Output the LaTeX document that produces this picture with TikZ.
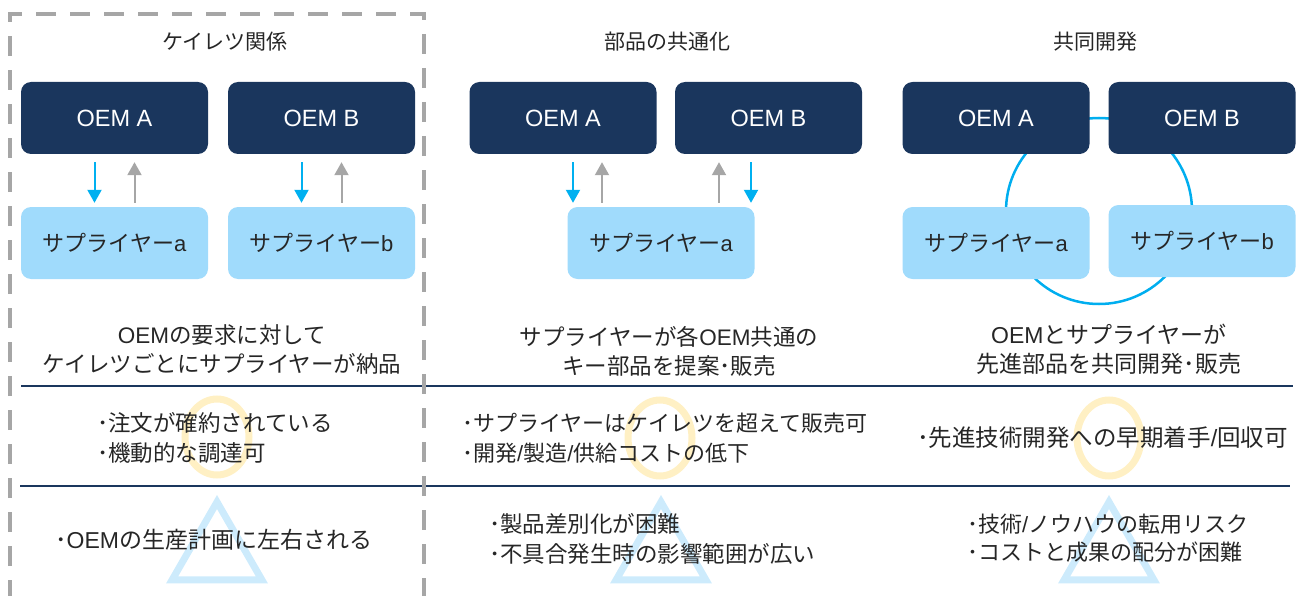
\documentclass[tikz,border=0pt]{standalone}
\usepackage{fontspec}
\setmainfont{Liberation Sans}
\newfontfamily\cjkfont{Noto Sans CJK JP}
\newcommand{\jtext}[1]{{\cjkfont #1}}
\newcommand{\fsz}[1]{\fontsize{#1}{30}\selectfont}
\usetikzlibrary{arrows.meta}
\definecolor{navy}{HTML}{1A365D}
\definecolor{lightsup}{HTML}{A0DBFC}
\definecolor{arrowblue}{HTML}{00B0F0}
\definecolor{arrowgray}{HTML}{A6A6A6}
\definecolor{dashgray}{HTML}{A6A6A6}
\definecolor{ringyellow}{HTML}{FFF0C4}
\definecolor{triblue}{HTML}{CDEBFC}
\definecolor{txt}{HTML}{262626}
\definecolor{circblue}{HTML}{00AEEF}
\begin{document}
\begin{tikzpicture}[x=1pt,y=-1pt,
 oembox/.style={fill=navy, rounded corners=10pt, minimum width=187pt, minimum height=72pt, text=white, font=\fontsize{23.5}{26}\selectfont, inner sep=0pt},
 supbox/.style={fill=lightsup, rounded corners=10pt, minimum width=187pt, minimum height=72pt, text=txt, font=\fontsize{22}{25}\selectfont, inner sep=0pt},
 coltitle/.style={text=txt, font=\fontsize{21}{25}\selectfont, inner sep=0pt},
 desc/.style={text=txt, font=\fontsize{22.5}{29}\selectfont, align=center, inner sep=0pt},
 bullets/.style={text=txt, font=\fontsize{22.5}{30}\selectfont, align=left, inner sep=0pt, anchor=west},
 downarr/.style={draw=arrowblue, line width=2pt, -{Triangle[width=14pt,length=13pt]}},
 uparr/.style={draw=arrowgray, line width=2pt, -{Triangle[width=14pt,length=13pt]}},
 ring/.style={draw=ringyellow, line width=7pt},
 tri/.style={draw=triblue, line width=7pt, line join=miter},
 rule/.style={draw=navy, line width=2.5pt},
 frame/.style={draw=dashgray, line width=4pt, dash pattern=on 20pt off 14pt},
]
\useasboundingbox (0,0) rectangle (1305,596);

% decorative rings and triangles (behind text)
\draw[ring] (217,437) ellipse [x radius=32, y radius=38];
\draw[ring] (660,438) ellipse [x radius=32, y radius=38];
\draw[ring] (1109,438) ellipse [x radius=32, y radius=38];
\draw[tri] (217,502) -- (172.1,579.9) -- (261.9,579.9) -- cycle;
\draw[tri] (661,502) -- (616.1,579.9) -- (705.9,579.9) -- cycle;
\draw[tri] (1109,502) -- (1064.1,579.9) -- (1153.9,579.9) -- cycle;

% joint development circle
\coordinate (cc) at (1099,211);
\draw[circblue, line width=2.5pt] (cc) circle (93pt);

% titles
\node[coltitle] (t1) at (225,42) {\jtext{ケイレツ関係}};
\node[coltitle] (t2) at (667,42) {\jtext{部品の共通化}};
\node[coltitle] (t3) at (1095,42) {\jtext{共同開発}};

% column 1
\node[oembox] (a1) at (114.5,118) {OEM A};
\node[oembox] (b1) at (321.5,118) {OEM B};
\node[supbox] (sa1) at (114.5,243) {\jtext{サプライヤー}a};
\node[supbox] (sb1) at (321.5,243) {\jtext{サプライヤー}b};
\draw[downarr, shorten <=8pt, shorten >=4pt] ([xshift=-20pt]a1.south) -- ([xshift=-20pt]sa1.north);
\draw[uparr, shorten <=4pt, shorten >=8pt] ([xshift=20pt]sa1.north) -- ([xshift=20pt]a1.south);
\draw[downarr, shorten <=8pt, shorten >=4pt] ([xshift=-20pt]b1.south) -- ([xshift=-20pt]sb1.north);
\draw[uparr, shorten <=4pt, shorten >=8pt] ([xshift=20pt]sb1.north) -- ([xshift=20pt]b1.south);

% column 2
\node[oembox] (a2) at (563,118) {OEM A};
\node[oembox] (b2) at (768.5,118) {OEM B};
\node[supbox] (sa2) at (661,243) {\jtext{サプライヤー}a};
\draw[downarr, shorten <=8pt, shorten >=4pt] ([xshift=10pt]a2.south) -- ([xshift=10pt]a2.south |- sa2.north);
\draw[uparr, shorten <=4pt, shorten >=8pt] ([xshift=39pt]a2.south |- sa2.north) -- ([xshift=39pt]a2.south);
\draw[uparr, shorten <=4pt, shorten >=8pt] ([xshift=-49.5pt]b2.south |- sa2.north) -- ([xshift=-49.5pt]b2.south);
\draw[downarr, shorten <=8pt, shorten >=4pt] ([xshift=-17.5pt]b2.south) -- ([xshift=-17.5pt]b2.south |- sa2.north);

% column 3
\node[oembox] (a3) at (996,118) {OEM A};
\node[oembox] (b3) at (1202,118) {OEM B};
\node[supbox] (sa3) at (996,243) {\jtext{サプライヤー}a};
\node[supbox] (sb3) at (1202,241) {\jtext{サプライヤー}b};

% descriptions
\node[desc] (d1) at (222,349) {OEM\jtext{の要求に対して}\\\jtext{ケイレツごとにサプライヤーが納品}};
\node[desc] (d2) at (669,351) {\jtext{サプライヤーが各}OEM\jtext{共通の}\\\jtext{キー部品を提案･販売}};
\node[desc, font=\fontsize{23}{29}\selectfont] (d3) at (1109,349) {OEM\jtext{とサプライヤーが}\\\jtext{先進部品を共同開発･販売}};

% rules
\coordinate (r1l) at (21,386);
\coordinate (r1r) at (1293,386);
\coordinate (r2l) at (20,486);
\coordinate (r2r) at (1290,486);
\draw[rule] (r1l) -- (r1r);
\draw[rule] (r2l) -- (r2r);

% merits
\node[bullets] (m1) at (97,438) {\jtext{･注文が確約されている}\\\jtext{･機動的な調達可}};
\node[bullets, font=\fsz{22}] (m2) at (462,438) {\jtext{･サプライヤーはケイレツを超えて販売可}\\\jtext{･開発}/\jtext{製造}/\jtext{供給コストの低下}};
\node[bullets, font=\fsz{23.5}] (m3) at (917,438) {\jtext{･先進技術開発への早期着手}/\jtext{回収可}};

% demerits
\node[bullets, font=\fsz{23}] (n1) at (55,540) {\jtext{･}OEM\jtext{の生産計画に左右される}};
\node[bullets] (n2) at (489,539) {\jtext{･製品差別化が困難}\\\jtext{･不具合発生時の影響範囲が広い}};
\node[bullets, font=\fontsize{22}{28}\selectfont] (n3) at (967,538) {\jtext{･技術}/\jtext{ノウハウの転用リスク}\\\jtext{･コストと成果の配分が困難}};

% keiretsu dashed frame
\coordinate (f1) at (10,600);
\coordinate (f2) at (10,14);
\coordinate (f3) at (424,14);
\coordinate (f4) at (424,600);
\draw[frame] (f1) -- (f2) -- (f3) -- (f4);
\end{tikzpicture}
\end{document}
